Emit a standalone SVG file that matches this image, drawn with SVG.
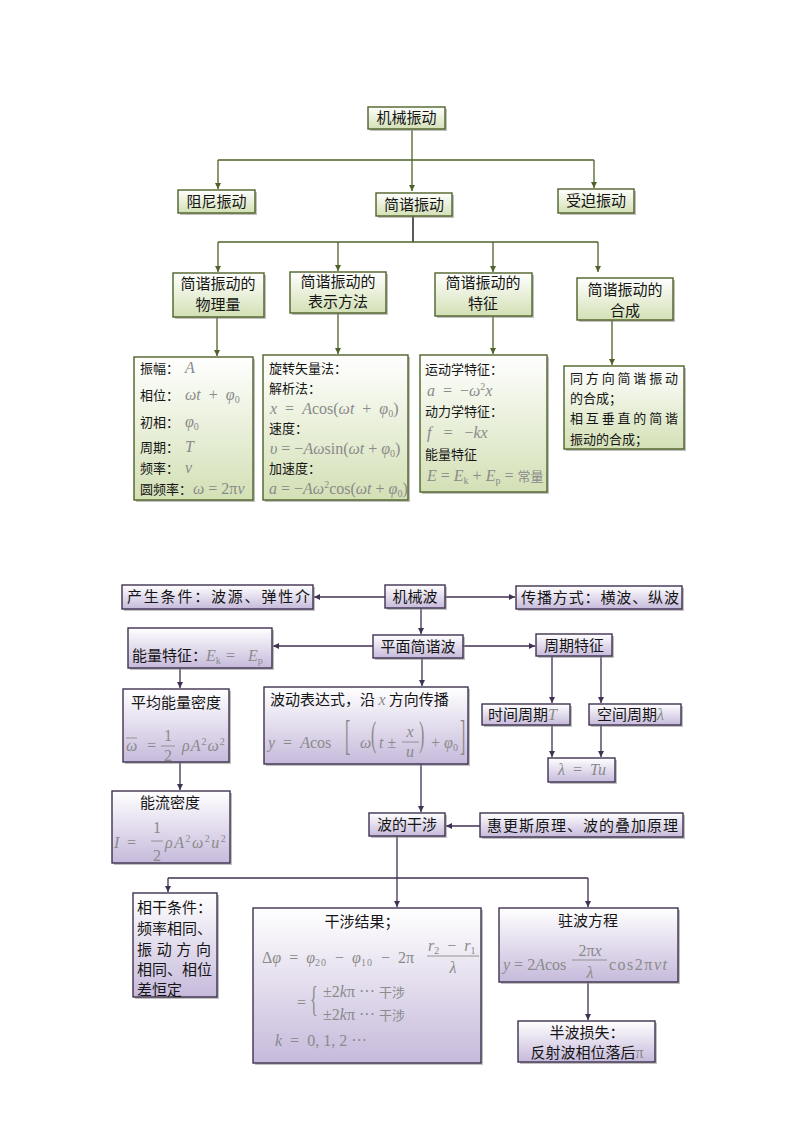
<svg xmlns="http://www.w3.org/2000/svg" width="794" height="1123" viewBox="0 0 794 1123">
<style>
.gb{fill:url(#gg);stroke:#4f6228;stroke-width:1.4}
.pb{fill:url(#pg);stroke:#3f3151;stroke-width:1.4}
.sh{fill:#8c8c8c;opacity:.55}
.gl{stroke:#4f6228;stroke-width:1.3;fill:none}
.pl{stroke:#3f3151;stroke-width:1.3;fill:none}
.c{font-family:"Noto Sans CJK SC","Noto Sans",sans-serif;fill:#151515;font-size:15px}
.s{font-size:13px}
.m{font-family:"Liberation Serif",serif;fill:#8a8a8a;font-size:16px}
.cm{font-family:"Noto Sans CJK SC",sans-serif;fill:#8a8a8a;font-size:13px}
.i{font-style:italic}
.mid{text-anchor:middle}
.fl{stroke:#8a8a8a;stroke-width:0.9}
.sb{font-size:10px}
</style>
<defs>
<linearGradient id="gg" x1="0" y1="0" x2="0" y2="1"><stop offset="0" stop-color="#ffffff"/><stop offset="1" stop-color="#d3e0b5"/></linearGradient>
<linearGradient id="pg" x1="0" y1="0" x2="0" y2="1"><stop offset="0" stop-color="#ffffff"/><stop offset="1" stop-color="#c6badb"/></linearGradient>
<marker id="ag" markerWidth="8" markerHeight="8" refX="6" refY="3" orient="auto" markerUnits="userSpaceOnUse"><path d="M0,0 L6,3 L0,6 z" fill="#4f6228"/></marker>
<marker id="ap" markerWidth="8" markerHeight="8" refX="6" refY="3" orient="auto" markerUnits="userSpaceOnUse"><path d="M0,0 L6,3 L0,6 z" fill="#3f3151"/></marker>
</defs>
<rect width="794" height="1123" fill="#ffffff"/>

<g id="connectors">
<g class="gl">
<path d="M412 130 V191" marker-end="url(#ag)"/>
<path d="M218 160 H594"/>
<path d="M218 160 V189" marker-end="url(#ag)"/>
<path d="M594 160 V188" marker-end="url(#ag)"/>
<path d="M413 216 V242" stroke="#000"/>
<path d="M218 242 H598"/>
<path d="M218 242 V272" marker-end="url(#ag)"/>
<path d="M338 242 V271" marker-end="url(#ag)"/>
<path d="M493 242 V272" marker-end="url(#ag)"/>
<path d="M598 242 V272" marker-end="url(#ag)"/>
<path d="M217 317 V356" marker-end="url(#ag)"/>
<path d="M338 313 V354" marker-end="url(#ag)"/>
<path d="M493 316 V354" marker-end="url(#ag)"/>
<path d="M612 320 V365" marker-end="url(#ag)"/>
</g>
<g class="pl">
<path d="M385 597 H314" marker-end="url(#ap)"/>
<path d="M445 597 H515" marker-end="url(#ap)"/>
<path d="M421 608 V634" marker-end="url(#ap)"/>
<path d="M373 646 H273" marker-end="url(#ap)"/>
<path d="M463 646 H535" marker-end="url(#ap)"/>
<path d="M180 668 V688" marker-end="url(#ap)"/>
<path d="M422 658 V686" marker-end="url(#ap)"/>
<path d="M552 656 V703" marker-end="url(#ap)"/>
<path d="M601 656 V703" marker-end="url(#ap)"/>
<path d="M180 762 V790" marker-end="url(#ap)"/>
<path d="M552 725 V757" marker-end="url(#ap)"/>
<path d="M601 725 V757" marker-end="url(#ap)"/>
<path d="M421 764 V812" marker-end="url(#ap)"/>
<path d="M480 826 H446" marker-end="url(#ap)"/>
<path d="M397 836 V907" marker-end="url(#ap)"/>
<path d="M168 878 H588"/>
<path d="M168 878 V892" marker-end="url(#ap)"/>
<path d="M588 878 V907" marker-end="url(#ap)"/>
<path d="M588 982 V1020" marker-end="url(#ap)"/>
</g>
</g>

<!-- top: mechanical vibration -->
<g id="n-jixiezhendong"><rect class="sh" x="370" y="109" width="77" height="22"/><rect class="gb" x="368" y="107" width="77" height="22"/><text class="c mid" x="406.5" y="123">机械振动</text></g>
<g id="n-zuni"><rect class="sh" x="180" y="192" width="77" height="23"/><rect class="gb" x="178" y="190" width="77" height="23"/><text class="c mid" x="216.5" y="207">阻尼振动</text></g>
<g id="n-jianxie"><rect class="sh" x="378" y="195" width="76" height="23"/><rect class="gb" x="376" y="193" width="76" height="23"/><text class="c mid" x="414" y="210">简谐振动</text></g>
<g id="n-shoupo"><rect class="sh" x="560" y="191" width="76" height="24"/><rect class="gb" x="558" y="189" width="76" height="24"/><text class="c mid" x="596" y="206">受迫振动</text></g>

<g id="n-wuliliang"><rect class="sh" x="175" y="275" width="91" height="44"/><rect class="gb" x="173" y="273" width="91" height="44"/><text class="c mid" x="218" y="289">简谐振动的</text><text class="c mid" x="218" y="310">物理量</text></g>
<g id="n-biaoshi"><rect class="sh" x="292" y="274" width="96" height="41"/><rect class="gb" x="290" y="272" width="96" height="41"/><text class="c mid" x="338" y="287">简谐振动的</text><text class="c mid" x="338" y="307">表示方法</text></g>
<g id="n-tezheng"><rect class="sh" x="437" y="275" width="97" height="43"/><rect class="gb" x="435" y="273" width="97" height="43"/><text class="c mid" x="483" y="288">简谐振动的</text><text class="c mid" x="483" y="309">特征</text></g>
<g id="n-hecheng"><rect class="sh" x="579" y="280" width="96" height="42"/><rect class="gb" x="577" y="278" width="96" height="42"/><text class="c mid" x="625" y="295">简谐振动的</text><text class="c mid" x="625" y="316">合成</text></g>

<g id="n-wuliliang-detail"><rect class="sh" x="136" y="359" width="119" height="143"/><rect class="gb" x="134" y="357" width="119" height="143"/>
<text class="c s" x="140" y="373">振幅：</text><text class="m i" x="185" y="373">A</text>
<text class="c s" x="140" y="400">相位：</text><text class="m" x="185" y="400" xml:space="preserve"><tspan class="i">ωt</tspan>  +  <tspan class="i">φ</tspan><tspan class="sb" dy="3">0</tspan></text>
<text class="c s" x="140" y="427">初相：</text><text class="m" x="185" y="427"><tspan class="i">φ</tspan><tspan class="sb" dy="3">0</tspan></text>
<text class="c s" x="140" y="452">周期：</text><text class="m i" x="185" y="452">T</text>
<text class="c s" x="140" y="473">频率：</text><text class="m i" x="185" y="473">ν</text>
<text class="c s" x="140" y="494">圆频率：</text><text class="m" x="193" y="494"><tspan class="i">ω</tspan> = 2π<tspan class="i">ν</tspan></text>
</g>
<g id="n-biaoshi-detail"><rect class="sh" x="265" y="357" width="145" height="145"/><rect class="gb" x="263" y="355" width="145" height="145"/>
<text class="c s" x="269" y="373">旋转矢量法：</text>
<text class="c s" x="269" y="393">解析法：</text>
<text class="m" x="270" y="414" xml:space="preserve"><tspan class="i">x</tspan>  =  <tspan class="i">A</tspan>cos(<tspan class="i">ωt</tspan>  +  <tspan class="i">φ</tspan><tspan class="sb" dy="3">0</tspan><tspan dy="-3">)</tspan></text>
<text class="c s" x="269" y="433">速度：</text>
<text class="m" x="270" y="454"><tspan class="i">υ</tspan> = −<tspan class="i">Aω</tspan>sin(<tspan class="i">ωt</tspan> + <tspan class="i">φ</tspan><tspan class="sb" dy="3">0</tspan><tspan dy="-3">)</tspan></text>
<text class="c s" x="269" y="473">加速度：</text>
<text class="m" x="269" y="494" font-size="15"><tspan class="i">a</tspan> = −<tspan class="i">Aω</tspan><tspan class="sb" dy="-6">2</tspan><tspan dy="6">cos(</tspan><tspan class="i">ωt</tspan> + <tspan class="i">φ</tspan><tspan class="sb" dy="3">0</tspan><tspan dy="-3">)</tspan></text>
</g>
<g id="n-tezheng-detail"><rect class="sh" x="422" y="357" width="127" height="137"/><rect class="gb" x="420" y="355" width="127" height="137"/>
<text class="c s" x="425" y="374">运动学特征：</text>
<text class="m" x="427" y="396" xml:space="preserve"><tspan class="i">a</tspan>  =  −<tspan class="i">ω</tspan><tspan class="sb" dy="-6">2</tspan><tspan class="i" dy="6">x</tspan></text>
<text class="c s" x="425" y="416">动力学特征：</text>
<text class="m" x="427" y="438" xml:space="preserve"><tspan class="i">f</tspan>   =   −<tspan class="i">kx</tspan></text>
<text class="c s" x="425" y="459">能量特征</text>
<text class="m" x="427" y="481" font-size="15"><tspan class="i">E</tspan> = <tspan class="i">E</tspan><tspan class="sb" dy="3">k</tspan><tspan dy="-3"> + </tspan><tspan class="i">E</tspan><tspan class="sb" dy="3">p</tspan><tspan dy="-3"> = </tspan><tspan class="cm">常量</tspan></text>
</g>
<g id="n-hecheng-detail"><rect class="sh" x="566" y="368" width="120" height="83"/><rect class="gb" x="564" y="366" width="120" height="83"/>
<text class="c s" x="570" y="383" textLength="108">同方向简谐振动</text>
<text class="c s" x="570" y="403">的合成；</text>
<text class="c s" x="570" y="423" textLength="108">相互垂直的简谐</text>
<text class="c s" x="570" y="444">振动的合成；</text>
</g>

<!-- bottom: mechanical wave -->
<g id="n-jixiebo"><rect class="sh" x="387" y="587" width="60" height="23"/><rect class="pb" x="385" y="585" width="60" height="23"/><text class="c mid" x="415" y="602">机械波</text></g>
<g id="n-chansheng"><rect class="sh" x="124" y="587" width="191" height="24"/><rect class="pb" x="122" y="585" width="191" height="24"/><text class="c" x="127" y="602" textLength="183">产生条件：波源、弹性介</text></g>
<g id="n-chuanbo"><rect class="sh" x="518" y="588" width="166" height="23"/><rect class="pb" x="516" y="586" width="166" height="23"/><text class="c" x="521" y="603" textLength="158">传播方式：横波、纵波</text></g>
<g id="n-pingmian"><rect class="sh" x="375" y="637" width="90" height="23"/><rect class="pb" x="373" y="635" width="90" height="23"/><text class="c mid" x="418" y="652">平面简谐波</text></g>
<g id="n-nengliang"><rect class="sh" x="130" y="630" width="144" height="40"/><rect class="pb" x="128" y="628" width="144" height="40"/><text class="c" x="132" y="661" font-size="14">能量特征：</text>
<text class="m" y="661"><tspan class="i" x="206">E</tspan><tspan class="sb" dy="3">k</tspan><tspan x="226" dy="-3">=</tspan><tspan class="i" x="248">E</tspan><tspan class="sb" dy="3">p</tspan></text></g>
<g id="n-zhouqi"><rect class="sh" x="538" y="636" width="76" height="22"/><rect class="pb" x="536" y="634" width="76" height="22"/><text class="c mid" x="574" y="651">周期特征</text></g>
<g id="n-pingjun"><rect class="sh" x="125" y="691" width="106" height="73"/><rect class="pb" x="123" y="689" width="106" height="73"/><text class="c mid" x="176" y="708">平均能量密度</text>
<text class="m i" x="126" y="751">ω</text><line class="fl" x1="126" y1="738" x2="137" y2="738"/><text class="m" x="147" y="751">=</text>
<text class="m mid" x="168" y="741">1</text><line class="fl" x1="161" y1="746" x2="175" y2="746"/><text class="m mid" x="168" y="761">2</text>
<text class="m" x="182" y="751" letter-spacing="1"><tspan class="i">ρA</tspan><tspan class="sb" dy="-6">2</tspan><tspan class="i" dy="6">ω</tspan><tspan class="sb" dy="-6">2</tspan></text></g>
<g id="n-nengliu"><rect class="sh" x="114" y="793" width="118" height="72"/><rect class="pb" x="112" y="791" width="118" height="72"/><text class="c mid" x="170" y="808">能流密度</text>
<text class="m i" x="114" y="848">I</text><text class="m" x="127" y="848">=</text>
<text class="m mid" x="157" y="833">1</text><line class="fl" x1="151" y1="841" x2="163" y2="841"/><text class="m mid" x="157" y="861">2</text>
<text class="m" x="165" y="848" letter-spacing="1.5"><tspan class="i">ρA</tspan><tspan class="sb" dy="-6">2</tspan><tspan class="i" dy="6">ω</tspan><tspan class="sb" dy="-6">2</tspan><tspan class="i" dy="6">u</tspan><tspan class="sb" dy="-6">2</tspan></text></g>
<g id="n-bodong"><rect class="sh" x="266" y="689" width="204" height="77"/><rect class="pb" x="264" y="687" width="204" height="77"/>
<text class="c" x="270" y="705">波动表达式，沿 <tspan class="m i">x</tspan> 方向传播</text>
<text class="m" x="268" y="748" xml:space="preserve"><tspan class="i">y</tspan>  =  <tspan class="i">A</tspan>cos</text>
<text class="m" font-size="18" transform="translate(345,749) scale(1,2.6)">[</text>
<text class="m i" x="360" y="748">ω</text>
<text class="m" font-size="18" transform="translate(371,746) scale(1,2.2)">(</text>
<text class="m" x="379" y="748"><tspan class="i">t</tspan> ±</text>
<text class="m i mid" x="410" y="737">x</text><line class="fl" x1="402" y1="742" x2="419" y2="742"/><text class="m i mid" x="410" y="757">u</text>
<text class="m" font-size="18" transform="translate(419,746) scale(1,2.2)">)</text>
<text class="m" x="431" y="748">+ <tspan class="i">φ</tspan><tspan class="sb" dy="3">0</tspan></text>
<text class="m" font-size="18" transform="translate(460,749) scale(1,2.6)">]</text>
</g>
<g id="n-shijian"><rect class="sh" x="484" y="706" width="88" height="21"/><rect class="pb" x="482" y="704" width="88" height="21"/><text class="c" x="488" y="720">时间周期<tspan class="m i">T</tspan></text></g>
<g id="n-kongjian"><rect class="sh" x="591" y="706" width="92" height="21"/><rect class="pb" x="589" y="704" width="92" height="21"/><text class="c" x="597" y="720">空间周期<tspan class="m i">λ</tspan></text></g>
<g id="n-lambda"><rect class="sh" x="550" y="760" width="67" height="24"/><rect class="pb" x="548" y="758" width="67" height="24"/><text class="m mid" x="582" y="775" xml:space="preserve"><tspan class="i">λ</tspan>  =  <tspan class="i">Tu</tspan></text></g>
<g id="n-ganshe"><rect class="sh" x="371" y="815" width="76" height="23"/><rect class="pb" x="369" y="813" width="76" height="23"/><text class="c mid" x="407" y="830">波的干涉</text></g>
<g id="n-huigengsi"><rect class="sh" x="482" y="815" width="203" height="24"/><rect class="pb" x="480" y="813" width="203" height="24"/><text class="c" x="487" y="831" textLength="191">惠更斯原理、波的叠加原理</text></g>
<g id="n-xianggan"><rect class="sh" x="135" y="895" width="84" height="104"/><rect class="pb" x="133" y="893" width="84" height="104"/>
<text class="c" x="137" y="913">相干条件：</text>
<text class="c" x="137" y="934">频率相同、</text>
<text class="c" x="137" y="955" textLength="74">振动方向</text>
<text class="c" x="137" y="975">相同、相位</text>
<text class="c" x="137" y="995">差恒定</text>
</g>
<g id="n-ganshejieguo"><rect class="sh" x="255" y="910" width="228" height="155"/><rect class="pb" x="253" y="908" width="228" height="155"/>
<text class="c mid" x="362" y="927">干涉结果；</text>
<text class="m" x="262" y="963" xml:space="preserve">Δ<tspan class="i">φ</tspan>  =  <tspan class="i">φ</tspan><tspan class="sb" dy="3" letter-spacing="1">20</tspan><tspan dy="-3">  −  </tspan><tspan class="i">φ</tspan><tspan class="sb" dy="3" letter-spacing="1">10</tspan><tspan dy="-3">  −  2π</tspan></text>
<text class="m" x="428" y="951" xml:space="preserve"><tspan class="i">r</tspan><tspan class="sb" dy="3">2</tspan><tspan dy="-3">  −  </tspan><tspan class="i">r</tspan><tspan class="sb" dy="3">1</tspan></text>
<line class="fl" x1="427" y1="956" x2="479" y2="956"/>
<text class="m i mid" x="453" y="973">λ</text>
<text class="m" x="297" y="1008">=</text>
<text class="m" font-size="18" transform="translate(310,1011) scale(1,2.2)">{</text>
<text class="m" x="323" y="997">±2<tspan class="i">k</tspan>π ··· <tspan class="cm" font-size="15">干涉</tspan></text>
<text class="m" x="323" y="1020">±2<tspan class="i">k</tspan>π ··· <tspan class="cm" font-size="15">干涉</tspan></text>
<text class="m" x="275" y="1046" xml:space="preserve"><tspan class="i">k</tspan>  =  0, 1, 2 ···</text>
</g>
<g id="n-zhubo"><rect class="sh" x="501" y="910" width="179" height="74"/><rect class="pb" x="499" y="908" width="179" height="74"/>
<text class="c mid" x="588" y="926">驻波方程</text>
<text class="m" x="503" y="970" font-size="15"><tspan class="i">y</tspan> = 2<tspan class="i">A</tspan>cos</text>
<text class="m mid" x="590" y="956">2π<tspan class="i">x</tspan></text>
<line class="fl" x1="572" y1="960" x2="607" y2="960"/>
<text class="m i mid" x="590" y="978">λ</text>
<text class="m" x="609" y="970" letter-spacing="1.5">cos2π<tspan class="i">νt</tspan></text>
</g>
<g id="n-banbo"><rect class="sh" x="520" y="1023" width="137" height="41"/><rect class="pb" x="518" y="1021" width="137" height="41"/>
<text class="c mid" x="587" y="1038">半波损失：</text>
<text class="c mid" x="587" y="1058">反射波相位落后<tspan class="m">π</tspan></text>
</g>
</svg>
